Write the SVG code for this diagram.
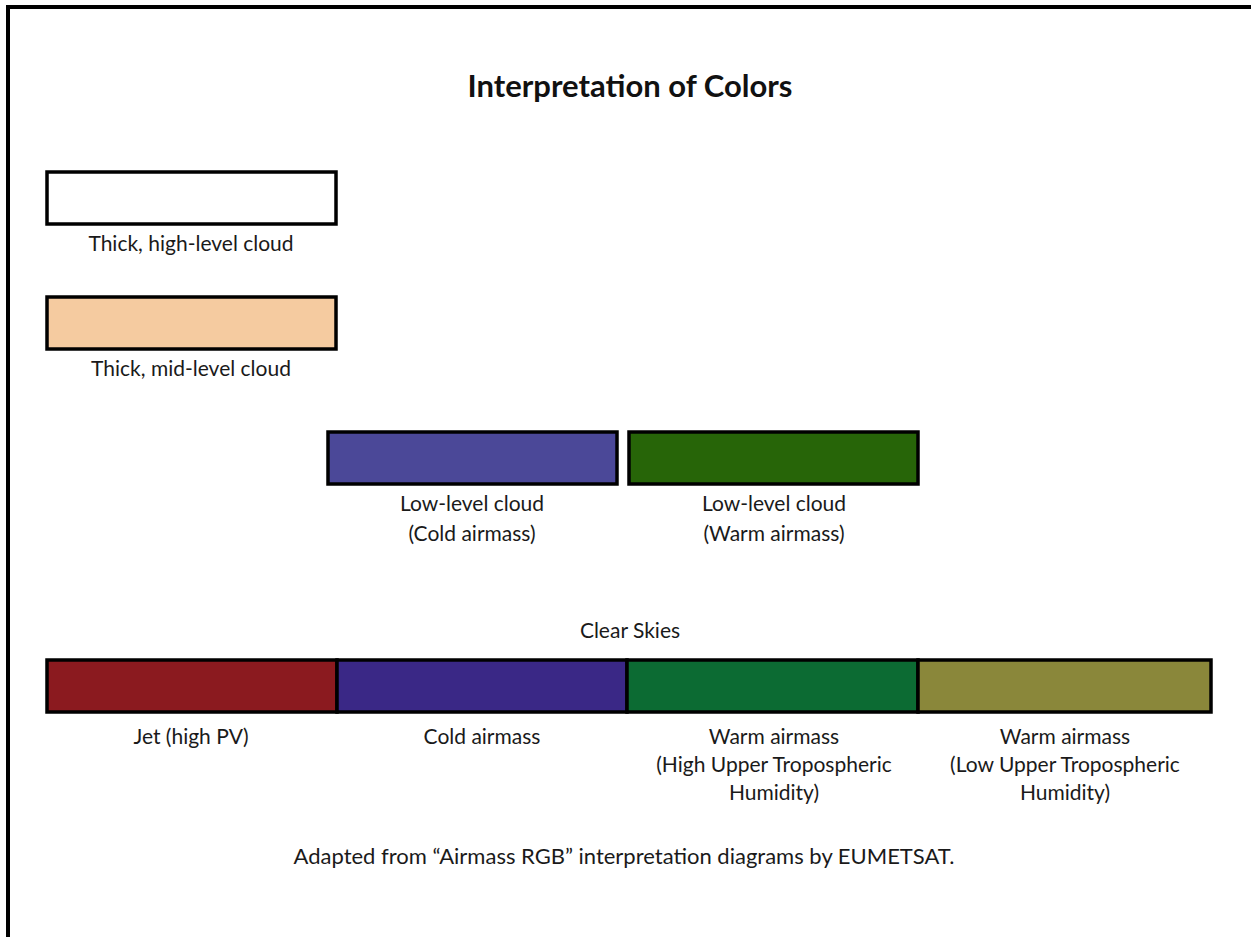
<svg xmlns="http://www.w3.org/2000/svg" width="1251" height="937" viewBox="0 0 1251 937">
<style>
.t{font-family:Lato,"Open Sans","Liberation Sans",sans-serif;font-size:21px;fill:#1a1a1a;text-anchor:middle}
.f{font-size:22px}
.b{stroke:#000;stroke-width:3.5}
.title{font-family:Lato,"Open Sans","Liberation Sans",sans-serif;font-size:31px;font-weight:bold;fill:#111;text-anchor:middle}
</style>
<rect x="0" y="0" width="1251" height="937" fill="#fff"/>
<path d="M8 937 V7 H1251" fill="none" stroke="#000" stroke-width="4"/>
<text class="title" x="630" y="97">Interpretation of Colors</text>
<g id="high">
<rect class="b" x="47" y="172" width="289" height="52" fill="#fff"/>
<text class="t" x="191" y="251">Thick, high-level cloud</text>
</g>
<g id="mid">
<rect class="b" x="47" y="297" width="289" height="52" fill="#F5CBA0"/>
<text class="t" x="191" y="376">Thick, mid-level cloud</text>
</g>
<g id="lowcold">
<rect class="b" x="328" y="432" width="289" height="52" fill="#4B4898"/>
<text class="t" x="472" y="511">Low-level cloud</text>
<text class="t" x="472" y="541">(Cold airmass)</text>
</g>
<g id="lowwarm">
<rect class="b" x="629" y="432" width="289" height="52" fill="#276508"/>
<text class="t" x="774" y="511">Low-level cloud</text>
<text class="t" x="774" y="541">(Warm airmass)</text>
</g>
<text class="t" x="630" y="638">Clear Skies</text>
<g id="jet">
<rect class="b" x="47" y="660" width="290" height="52" fill="#8B1A1F"/>
<text class="t" x="191" y="744">Jet (high PV)</text>
</g>
<g id="coldair">
<rect class="b" x="337" y="660" width="290" height="52" fill="#3A2886"/>
<text class="t" x="482" y="744">Cold airmass</text>
</g>
<g id="warmhigh">
<rect class="b" x="627" y="660" width="291" height="52" fill="#0C6B33"/>
<text class="t" x="774" y="744">Warm airmass</text>
<text class="t" x="774" y="772">(High Upper Tropospheric</text>
<text class="t" x="774" y="800">Humidity)</text>
</g>
<g id="warmlow">
<rect class="b" x="918" y="660" width="293" height="52" fill="#8A873A"/>
<text class="t" x="1065" y="744">Warm airmass</text>
<text class="t" x="1065" y="772">(Low Upper Tropospheric</text>
<text class="t" x="1065" y="800">Humidity)</text>
</g>
<g id="connectors"></g>
<text class="t f" x="624" y="864">Adapted from “Airmass RGB” interpretation diagrams by EUMETSAT.</text>
</svg>
